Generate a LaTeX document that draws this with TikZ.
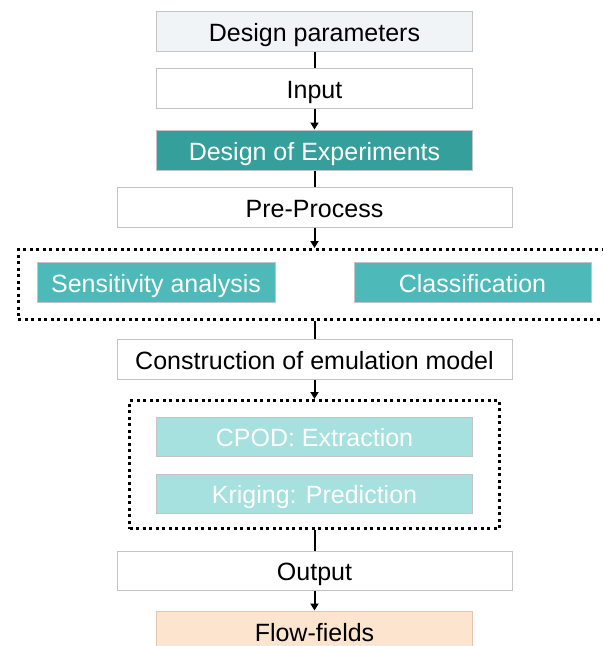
\documentclass[tikz,border=0pt]{standalone}
\usepackage{fontspec}
\setmainfont{Liberation Sans}
\usetikzlibrary{positioning,arrows.meta}
\definecolor{paramgray}{HTML}{F1F4F7}
\definecolor{doeteal}{HTML}{349F9B}
\definecolor{midteal}{HTML}{4DB9B9}
\definecolor{paleteal}{HTML}{A6E1DF}
\definecolor{flowtan}{HTML}{FCE4CF}
\definecolor{tanedge}{HTML}{E3C6AC}
\definecolor{edgegray}{HTML}{C4C4C4}

\begin{document}
\begin{tikzpicture}[
  box/.style={draw=edgegray,line width=1pt,minimum height=40pt,inner sep=0pt,
    text height=22pt,text depth=2pt,font=\fontsize{25}{30}\selectfont},
  narrow/.style={box,minimum width=316pt},
  wide/.style={box,minimum width=395pt},
  half/.style={box,minimum width=238pt,fill=midteal,text=white},
  pale/.style={box,minimum width=316pt,minimum height=39pt,fill=paleteal,text=white},
  grp/.style={draw,line width=3pt,dash pattern=on 3pt off 3.5pt,inner sep=0pt},
  arr/.style={-{Triangle[length=7pt,width=8pt]},line width=2pt},
  lnk/.style={line width=2pt},
  x=1pt,y=-1pt]
\clip (0,0) rectangle (603,646);
\node[narrow,fill=paramgray] (n0) at (314.5,31)   {Design parameters};
\node[narrow]                (n1) at (314.5,88)   {Input};
\node[narrow,fill=doeteal,text=white] (n2) at (314.5,150) {Design of Experiments};
\node[wide]                  (n3) at (314.5,207)  {Pre-Process};
\node[grp,minimum width=593pt,minimum height=70pt] (g1) at (314.5,284.5) {};
\node[half]                  (n4) at (156,282)    {Sensitivity analysis};
\node[half,minimum width=237pt] (n5) at (472.5,282) {Classification};
\node[wide]                  (n6) at (314.5,359)  {Construction of emulation model};
\node[grp,minimum width=370pt,minimum height=128pt] (g2) at (314.5,464.5) {};
\node[pale]                  (n7) at (314.5,436.5) {CPOD: Extraction};
\node[pale]                  (n8) at (314.5,493.5) {Kriging: Prediction};
\node[wide,minimum height=39pt] (n9) at (314.5,570.5) {Output};
\node[narrow,draw=tanedge,fill=flowtan] (n10) at (314.5,631) {Flow-fields};
\draw[lnk] (n0)--(n1);
\draw[arr] (n1)--(n2);
\draw[lnk] (n2)--(n3);
\draw[arr] (n3)--(g1);
\draw[lnk] (g1)--(n6);
\draw[arr] (n6)--(g2);
\draw[lnk] (g2)--(n9);
\draw[arr] (n9)--(n10);
\end{tikzpicture}
\end{document}
